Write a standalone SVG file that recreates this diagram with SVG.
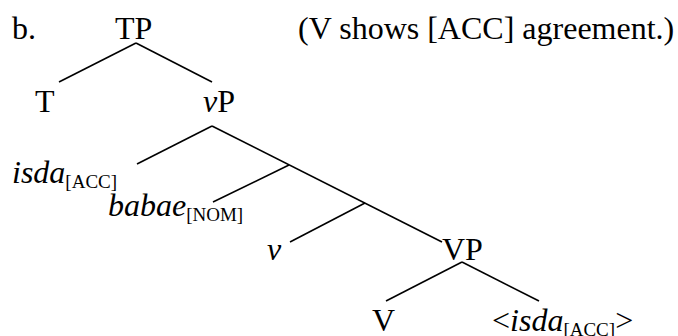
<svg xmlns="http://www.w3.org/2000/svg" width="678" height="336" viewBox="0 0 678 336">
<style>
text{font-family:"Liberation Serif","Times New Roman",serif;font-size:32px;fill:#000}
.i{font-style:italic}
.s{font-size:19px;font-style:normal}
line{stroke:#000;stroke-width:1.6}
</style>
<rect width="678" height="336" fill="#fff"/>
<g id="label-b"><text x="12" y="39">b.</text></g>
<g id="note"><text x="298" y="39">(V shows [ACC] agreement.)</text></g>
<g id="connectors">
<line x1="136" y1="43" x2="59" y2="82"/>
<line x1="136" y1="43" x2="212" y2="82"/>
<line x1="212" y1="126" x2="137" y2="164"/>
<line x1="212" y1="126" x2="442" y2="242"/>
<line x1="289" y1="165" x2="213" y2="202"/>
<line x1="365" y1="203" x2="290" y2="242"/>
<line x1="462" y1="262" x2="386" y2="301"/>
<line x1="462" y1="262" x2="539" y2="301"/>
</g>
<g id="TP"><text x="115" y="39">TP</text></g>
<g id="T"><text x="35" y="112">T</text></g>
<g id="vP"><text x="203" y="112"><tspan class="i">v</tspan>P</text></g>
<g id="isda"><text x="12" y="183" class="i">isda<tspan class="s" dy="5">[ACC]</tspan></text></g>
<g id="babae"><text x="108" y="216" class="i">babae<tspan class="s" dy="5">[NOM]</tspan></text></g>
<g id="v"><text x="267" y="260" class="i">v</text></g>
<g id="VP"><text x="442" y="260">VP</text></g>
<g id="V"><text x="372" y="331">V</text></g>
<g id="isda-trace"><text x="492" y="331">&lt;<tspan class="i">isda</tspan><tspan class="s" dy="5">[ACC]</tspan><tspan dy="-5">&gt;</tspan></text></g>
</svg>
